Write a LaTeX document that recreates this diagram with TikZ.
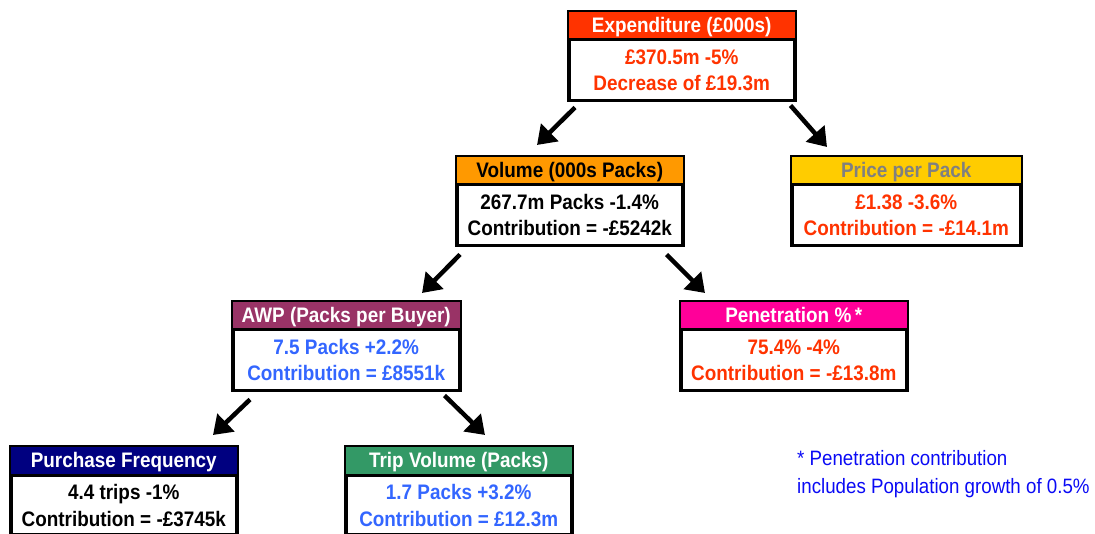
\documentclass[tikz,border=0pt]{standalone}
\usepackage{fontspec}
\setmainfont{Liberation Sans}[FakeStretch=0.9]
\usetikzlibrary{arrows.meta}
\definecolor{expred}{HTML}{FF3300}
\definecolor{volorange}{HTML}{FF9900}
\definecolor{pricegold}{HTML}{FFCC00}
\definecolor{pricegray}{HTML}{808080}
\definecolor{awpplum}{HTML}{993366}
\definecolor{penpink}{HTML}{FF0099}
\definecolor{pfnavy}{HTML}{000080}
\definecolor{tvgreen}{HTML}{339966}
\definecolor{valblue}{HTML}{3366FF}
\definecolor{noteblue}{HTML}{0A0AF5}
\tikzset{
  tbox/.style={draw, line width=3.5pt, inner sep=0pt, anchor=north west,
    minimum width=226pt, minimum height=89pt},
  hdr/.style={anchor=base, inner sep=0pt, font=\fontsize{21}{25}\selectfont\bfseries},
  bdy/.style={anchor=base, inner sep=0pt, font=\fontsize{21}{25}\selectfont\bfseries},
  notetext/.style={anchor=base west, inner sep=0pt, text=noteblue, font=\fontsize{20.8}{25}\selectfont},
  arr/.style={line width=4.5pt, -{Triangle[length=18pt,width=24pt]}}
}
\newcommand\treebox[8]{%
  \node[tbox,#2] (#1) {};
  \fill[#3] ([shift={(1.75,-1.75)}]#1.north west) rectangle ([shift={(-1.75,-28.5)}]#1.north east);
  \draw[line width=3pt] ([yshift=-30]#1.north west) -- ([yshift=-30]#1.north east);
  \node[hdr,text=#4] at ([yshift=-22.5]#1.north) {#5};
  \node[bdy,text=#6] at ([yshift=-54.5]#1.north) {#7};
  \node[bdy,text=#6] at ([yshift=-81]#1.north) {#8};
}
\begin{document}
\begin{tikzpicture}[x=1pt,y=1pt]
\useasboundingbox (0,0) rectangle (1095,-534);
\treebox{exp}{at={(567,-10)}}{expred}{white}{Expenditure (£000s)}{expred}{£370.5m -5\%}{Decrease of £19.3m}
\treebox{vol}{at={(455,-155)}}{volorange}{black}{Volume (000s Packs)}{black}{267.7m Packs -1.4\%}{Contribution = -£5242k}
\treebox{price}{at={(790,-155)},minimum width=229pt}{pricegold}{pricegray}{Price per Pack}{expred}{£1.38 -3.6\%}{Contribution = -£14.1m}
\treebox{awp}{at={(231,-300)},minimum width=227pt}{awpplum}{white}{AWP (Packs per Buyer)}{valblue}{7.5 Packs +2.2\%}{Contribution = £8551k}
\treebox{pen}{at={(679,-300)}}{penpink}{white}{Penetration \%\,*}{expred}{75.4\% -4\%}{Contribution = -£13.8m}
\treebox{pf}{at={(9,-445)},minimum height=88pt}{pfnavy}{white}{Purchase Frequency}{black}{4.4 trips -1\%}{Contribution = -£3745k}
\treebox{tv}{at={(344,-445)},minimum height=88pt}{tvgreen}{white}{Trip Volume (Packs)}{valblue}{1.7 Packs +3.2\%}{Contribution = £12.3m}
% connectors
\draw[arr] ([shift={(8,-5)}]exp.south west) -- ([shift={(82,10)}]vol.north west);
\draw[arr] ([shift={(-6,-3)}]exp.south east) -- ([shift={(37,8)}]price.north west);
\draw[arr] ([shift={(5,-7)}]vol.south west) -- ([shift={(191,7)}]awp.north west);
\draw[arr] ([shift={(-18,-7)}]vol.south east) -- ([shift={(26,7)}]pen.north west);
\draw[arr] ([shift={(19,-7)}]awp.south west) -- ([shift={(204,10)}]pf.north west);
\draw[arr] ([shift={(-17,-3)}]awp.south east) -- ([shift={(141,10)}]tv.north west);
% note
\node[notetext] (note1) at (797,-465) {* Penetration contribution};
\node[notetext] (note2) at (797,-493) {includes Population growth of 0.5\%};
\end{tikzpicture}
\end{document}
